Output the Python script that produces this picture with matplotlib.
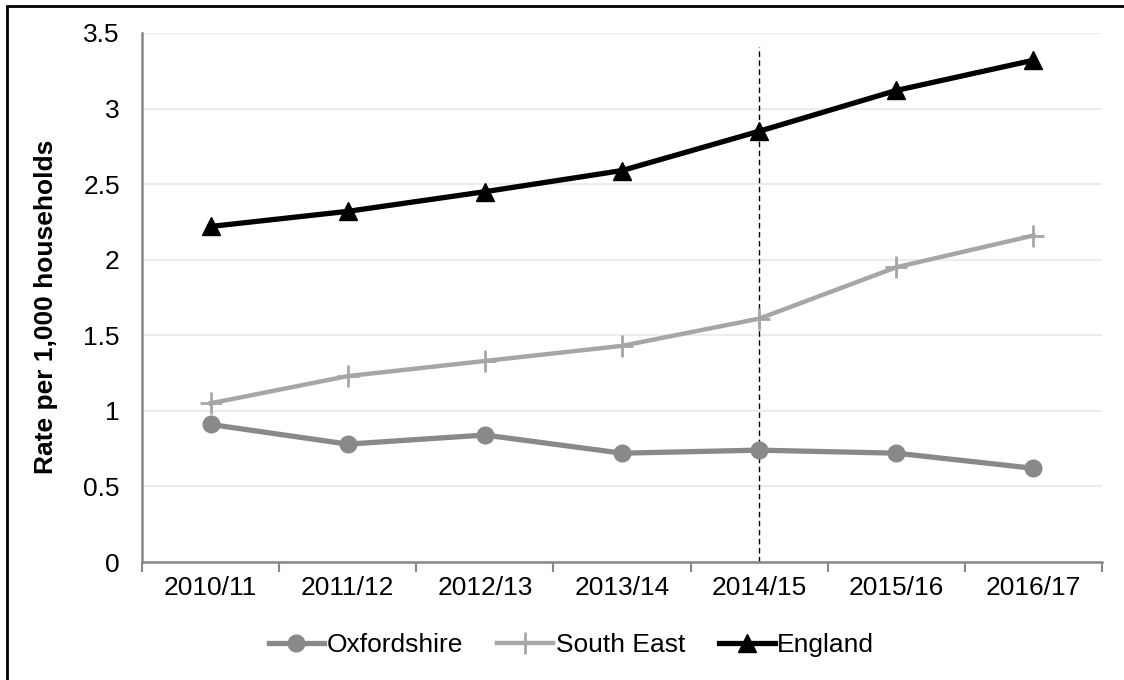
import numpy as np
import matplotlib
matplotlib.use('Agg')
import matplotlib.pyplot as plt
from matplotlib.patches import Rectangle

plt.rcParams['font.family'] = ['Liberation Sans', 'DejaVu Sans']

years = ['2010/11', '2011/12', '2012/13', '2013/14', '2014/15', '2015/16', '2016/17']
oxfordshire = [0.91, 0.78, 0.84, 0.72, 0.74, 0.72, 0.62]
south_east = [1.05, 1.23, 1.33, 1.43, 1.61, 1.95, 2.16]
england = [2.22, 2.32, 2.45, 2.59, 2.85, 3.12, 3.32]
marker_year = '2014/15'

x = np.arange(len(years))

fig = plt.figure(figsize=(11.24, 6.8), dpi=100)
ax = fig.add_axes([142 / 1124, 118 / 680, 960 / 1124, 529 / 680])

ax.plot(x, oxfordshire, color='#898989', lw=3.8, marker='o', markersize=12,
        label='Oxfordshire', zorder=3)
ax.plot(x, south_east, color='#a6a6a6', lw=3.2, marker='+', markersize=16,
        markeredgewidth=2, label='South East', zorder=3)
ax.plot(x, england, color='black', lw=3.8, marker='^', markersize=12.5,
        label='England', zorder=4)

# dashed marker line at 2014/15
xv = years.index(marker_year)
ax.plot([xv, xv], [0, 3.41], color='black', lw=1, ls=(0, (4, 2.5)), zorder=2)

ax.set_xlim(-0.5, len(years) - 0.5)
ax.set_ylim(0, 3.5)
ax.set_yticks(np.arange(0, 3.51, 0.5))
ax.set_yticklabels(['0', '0.5', '1', '1.5', '2', '2.5', '3', '3.5'])
ax.set_xticks(x)
ax.set_xticklabels(years)
ax.set_xticks(np.arange(-0.5, len(years), 1), minor=True)
ax.tick_params(axis='x', which='major', length=0, pad=10, labelsize=19)
ax.tick_params(axis='x', which='minor', length=7, width=1.5, color='#888888', direction='out')
ax.tick_params(axis='y', length=0, pad=16, labelsize=19)

ax.grid(axis='y', color='#ececec', lw=1.5)
ax.set_axisbelow(True)
for s in ['top', 'right']:
    ax.spines[s].set_visible(False)
for s in ['left', 'bottom']:
    ax.spines[s].set_color('#888888')
    ax.spines[s].set_linewidth(1.8)

ax.set_ylabel('Rate per 1,000 households', fontsize=19, fontweight='bold')
ax.yaxis.set_label_coords(-0.088, 0.482)

ax.legend(loc='center', bbox_to_anchor=(571.5 / 1124, 35 / 680), bbox_transform=fig.transFigure,
          ncol=3, frameon=False, fontsize=19, handlelength=2.1, handletextpad=0.1,
          columnspacing=1.3)

fig.patches.append(Rectangle((7 / 1124, -0.1), 1.2, (680 - 6) / 680 + 0.1,
                             transform=fig.transFigure, fill=False,
                             edgecolor='black', lw=2))

fig.savefig('out.png', dpi=100)
